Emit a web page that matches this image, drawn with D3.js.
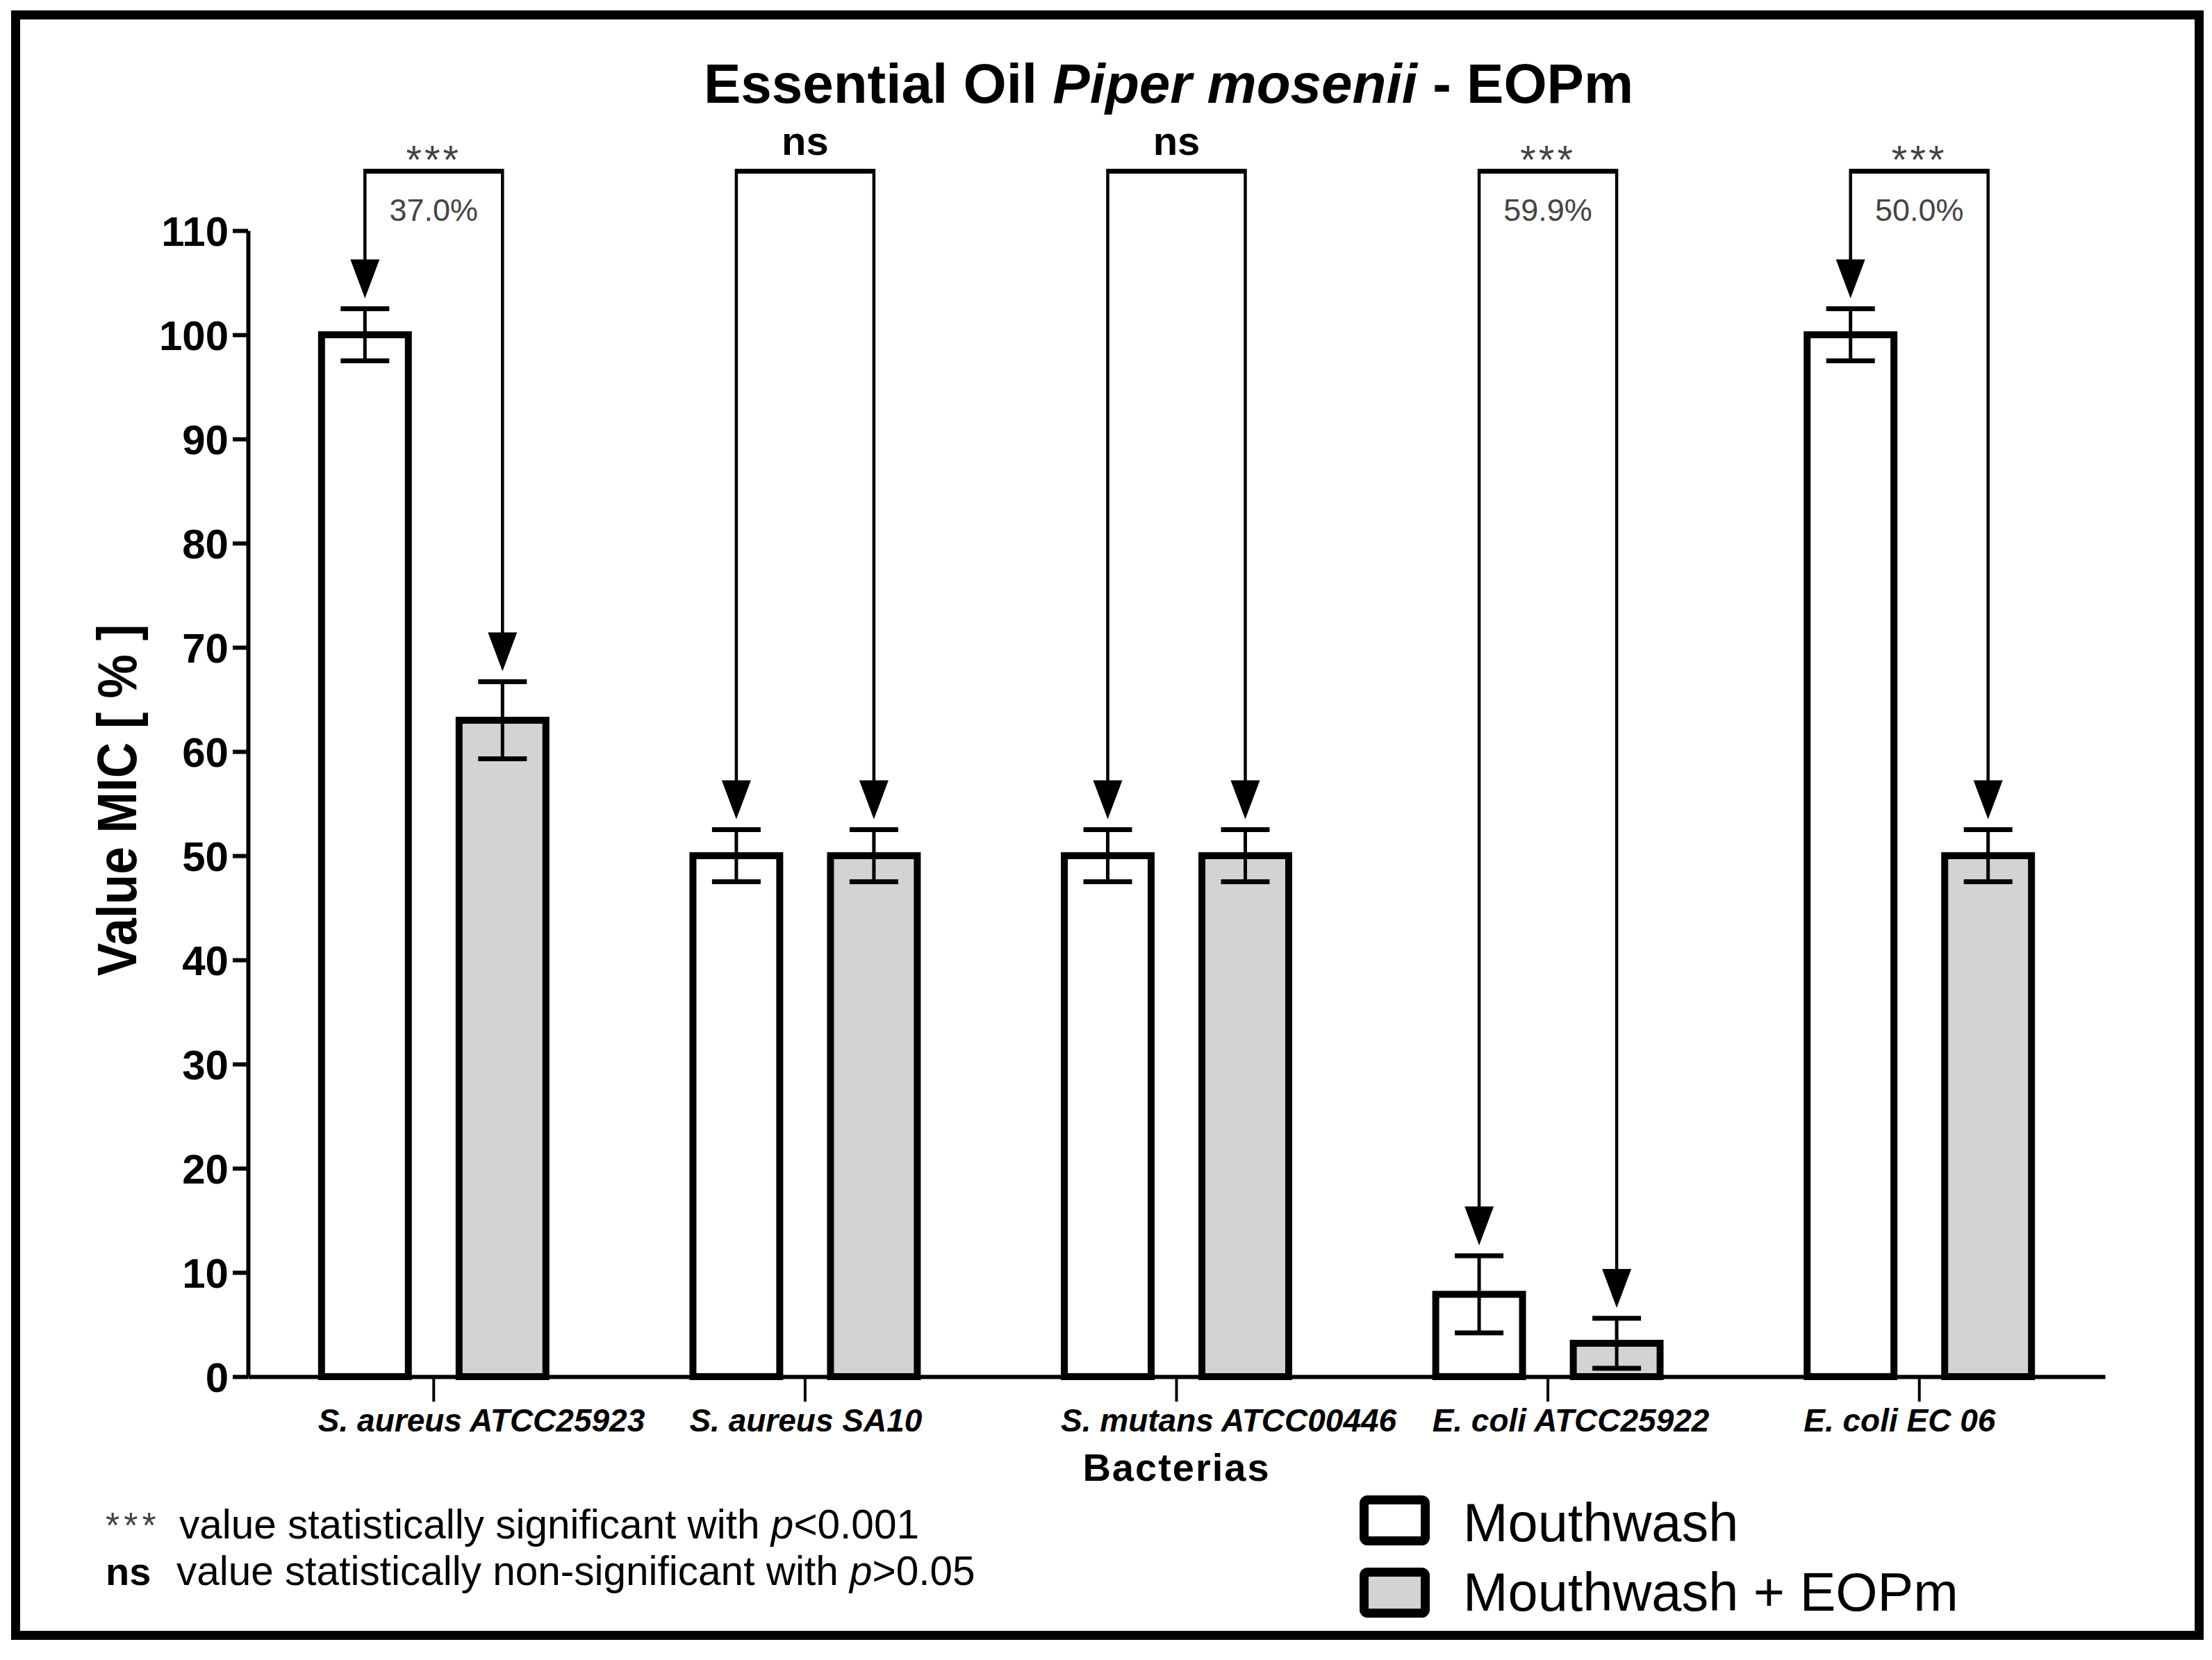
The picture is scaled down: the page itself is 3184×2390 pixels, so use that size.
<!DOCTYPE html>
<html>
<head>
<meta charset="utf-8">
<script src="https://cdn.jsdelivr.net/npm/d3@7"></script>
<style>
  html, body { margin: 0; padding: 0; background: #fff; }
  svg { display: block; font-family: "Liberation Sans", Arial, sans-serif; }
</style>
</head>
<body>
<svg id="chart" width="3184" height="2390"></svg>
<script>
// ---- data ----
const categories = ["S. aureus ATCC25923", "S. aureus SA10", "S. mutans ATCC00446", "E. coli ATCC25922", "E. coli EC 06"];
const seriesNames = ["Mouthwash", "Mouthwash + EOPm"];
const mouthwash = [100, 50, 50, 7.9, 100];
const mouthwashErr = [2.5, 2.5, 2.5, 3.7, 2.5];
const mouthwashEOPm = [63, 50, 50, 3.2, 50];
const mouthwashEOPmErr = [3.7, 2.5, 2.5, 2.4, 2.5];
const significance = ["***", "ns", "ns", "***", "***"];
const reduction = ["37.0%", "", "", "59.9%", "50.0%"];
const yTicks = [0, 10, 20, 30, 40, 50, 60, 70, 80, 90, 100, 110];

// ---- layout ----
const W = 3184, H = 2390;
const svg = d3.select("#chart");
svg.append("rect").attr("width", W).attr("height", H).attr("fill", "#fff");

// outer frame
svg.append("rect").attr("x", 22.5).attr("y", 21.5).attr("width", 3143).attr("height", 2333)
  .attr("fill", "none").attr("stroke", "#000").attr("stroke-width", 13);

const plotLeft = 357, plotRight = 3030, plotTop = 332, plotBottom = 1982;
const y = d3.scaleLinear().domain([0, 110]).range([plotBottom, plotTop]);
const x = d3.scaleBand().domain(categories).range([plotLeft, plotRight]).paddingInner(0).paddingOuter(0);
const xs = d3.scaleBand().domain(seriesNames).range([0, x.bandwidth()]).paddingInner(0.369).paddingOuter(0.5345);
const fills = { "Mouthwash": "#ffffff", "Mouthwash + EOPm": "#d3d3d3" };

const rows = categories.map((c, i) => ({
  cat: c, i,
  bars: [
    { s: seriesNames[0], v: mouthwash[i], e: mouthwashErr[i] },
    { s: seriesNames[1], v: mouthwashEOPm[i], e: mouthwashEOPmErr[i] }
  ]
}));

// title
const title = svg.append("text").attr("x", 1682).attr("y", 148).attr("text-anchor", "middle")
  .attr("font-size", 80).attr("font-weight", "bold").attr("fill", "#000");
title.append("tspan").text("Essential Oil ");
title.append("tspan").attr("font-style", "italic").text("Piper mosenii");
title.append("tspan").text(" - EOPm");

// bars
const g = svg.append("g");
const grp = g.selectAll("g.grp").data(rows).join("g").attr("class", "grp")
  .attr("transform", d => `translate(${x(d.cat)},0)`);
const SW = 10;
grp.selectAll("rect.bar").data(d => d.bars).join("rect").attr("class", "bar")
  .attr("x", d => xs(d.s))
  .attr("width", xs.bandwidth())
  .attr("y", d => y(d.v))
  .attr("height", d => y(0) - y(d.v))
  .attr("fill", d => fills[d.s]).attr("stroke", "#000").attr("stroke-width", SW);

// error bars
const capW = 70;
grp.selectAll("g.err").data(d => d.bars).join("g").attr("class", "err").each(function(d) {
  const cx = xs(d.s) + xs.bandwidth() / 2;
  const e = d3.select(this);
  e.append("line").attr("x1", cx).attr("x2", cx).attr("y1", y(d.v + d.e)).attr("y2", y(Math.max(0, d.v - d.e)))
    .attr("stroke", "#000").attr("stroke-width", 5);
  [d.v + d.e, d.v - d.e].forEach(val => {
    e.append("line").attr("x1", cx - capW / 2).attr("x2", cx + capW / 2).attr("y1", y(val)).attr("y2", y(val))
      .attr("stroke", "#000").attr("stroke-width", 7);
  });
});

// axes
const yAxis = d3.axisLeft(y).tickValues(yTicks).tickSize(22).tickSizeOuter(0).tickPadding(6);
const ya = svg.append("g").attr("transform", `translate(${plotLeft},0)`).call(yAxis);
ya.select(".domain").attr("stroke-width", 6).attr("stroke", "#000");
ya.selectAll(".tick line").attr("stroke-width", 6).attr("stroke", "#000");
ya.selectAll(".tick text").attr("font-size", 60).attr("font-weight", "bold").attr("fill", "#000")
  .attr("font-family", "Liberation Sans, Arial, sans-serif").attr("dy", "0.36em");

const xAxis = d3.axisBottom(x).tickSize(36).tickSizeOuter(0).tickFormat("");
const xa = svg.append("g").attr("transform", `translate(0,${plotBottom})`).call(xAxis);
xa.select(".domain").attr("stroke-width", 6).attr("stroke", "#000");
xa.selectAll(".tick line").attr("stroke-width", 4).attr("stroke", "#000");

// x category labels (left aligned at the first bar's edge, as in the original)
svg.selectAll("text.xlab").data(rows).join("text").attr("class", "xlab")
  .attr("x", d => x(d.cat) + xs(seriesNames[0]) - SW / 2)
  .attr("y", 2061)
  .attr("font-size", 46).attr("font-weight", "bold").attr("font-style", "italic").attr("fill", "#000")
  .text(d => d.cat);

// axis titles
svg.append("text").attr("x", (plotLeft + plotRight) / 2).attr("y", 2132).attr("text-anchor", "middle")
  .attr("font-size", 56).attr("font-weight", "bold").attr("letter-spacing", 2).text("Bacterias");
svg.append("text").attr("transform", "translate(196,1152) rotate(-90) scale(0.89,1)")
  .attr("text-anchor", "middle").attr("font-size", 80).attr("font-weight", "bold").text("Value MIC [ % ]");

// significance brackets with arrows
const bracketY = y(115.7);
const arrowH = 56, arrowW = 42, gapTip = 15;
const ann = svg.append("g");
rows.forEach((r, i) => {
  const x0 = x(r.cat);
  const cxs = r.bars.map(b => x0 + xs(b.s) + xs.bandwidth() / 2);
  const tips = r.bars.map(b => y(b.v + b.e) - gapTip);
  ann.append("line").attr("x1", cxs[0]).attr("x2", cxs[1]).attr("y1", bracketY).attr("y2", bracketY)
    .attr("stroke", "#000").attr("stroke-width", 7);
  cxs.forEach((cx, k) => {
    ann.append("line").attr("x1", cx).attr("x2", cx).attr("y1", bracketY - 3.5).attr("y2", tips[k] - arrowH + 2)
      .attr("stroke", "#000").attr("stroke-width", 4.5);
    ann.append("path")
      .attr("d", `M${cx - arrowW / 2},${tips[k] - arrowH} L${cx + arrowW / 2},${tips[k] - arrowH} L${cx},${tips[k]} Z`)
      .attr("fill", "#000");
  });
  const mid = (cxs[0] + cxs[1]) / 2;
  if (significance[i] === "ns") {
    ann.append("text").attr("x", mid).attr("y", 223).attr("text-anchor", "middle")
      .attr("font-size", 58).attr("font-weight", "bold").attr("fill", "#000").text("ns");
  } else {
    ann.append("text").attr("x", mid).attr("y", 250).attr("text-anchor", "middle")
      .attr("font-size", 58).attr("letter-spacing", 4).attr("fill", "#444").text(significance[i]);
  }
  if (reduction[i]) {
    ann.append("text").attr("x", mid).attr("y", 318).attr("text-anchor", "middle")
      .attr("font-size", 45).attr("fill", "#444").text(reduction[i]);
  }
});

// footnote
const f1 = svg.append("g");
f1.append("text").attr("x", 152).attr("y", 2214).attr("font-size", 52).attr("fill", "#444").attr("letter-spacing", 6).text("***");
const t1 = f1.append("text").attr("x", 258).attr("y", 2215).attr("font-size", 58.5).attr("fill", "#000");
t1.append("tspan").text("value statistically significant with ");
t1.append("tspan").attr("font-style", "italic").text("p");
t1.append("tspan").text("<0.001");
f1.append("text").attr("x", 152).attr("y", 2282).attr("font-size", 56).attr("font-weight", "bold").attr("fill", "#000").text("ns");
const t2 = f1.append("text").attr("x", 254).attr("y", 2282).attr("font-size", 58.5).attr("fill", "#000");
t2.append("tspan").text("value statistically non-significant with ");
t2.append("tspan").attr("font-style", "italic").text("p");
t2.append("tspan").text(">0.05");

// legend
const leg = svg.append("g");
seriesNames.forEach((s, k) => {
  const ly = 2159.5 + k * 104;
  leg.append("rect").attr("x", 1963.5).attr("y", ly).attr("width", 88).attr("height", 59).attr("rx", 5)
    .attr("fill", fills[s]).attr("stroke", "#000").attr("stroke-width", 13);
  leg.append("text").attr("x", 2106).attr("y", 2219 + k * 100).attr("font-size", 77.5).attr("fill", "#000").text(s);
});
</script>
</body>
</html>
